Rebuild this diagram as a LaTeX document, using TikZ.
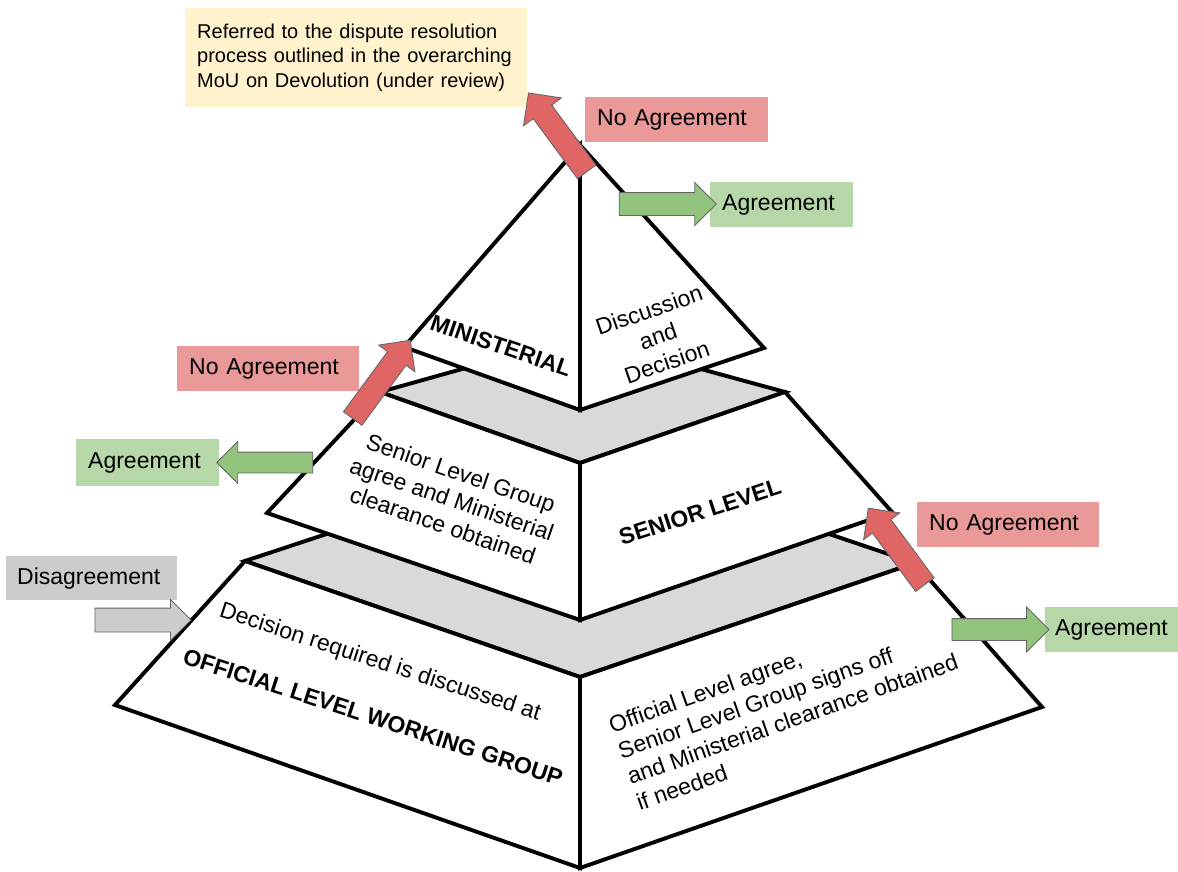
\documentclass[tikz,border=0pt]{standalone}
\usepackage{fontspec}
\setmainfont{Liberation Sans}
\usetikzlibrary{shapes.arrows}
\definecolor{pinkbox}{HTML}{EA9999}
\definecolor{redarrow}{HTML}{E06666}
\definecolor{greenbox}{HTML}{B6D7A8}
\definecolor{greenarrow}{HTML}{93C47D}
\definecolor{graybox}{HTML}{CCCCCC}
\definecolor{grayface}{HTML}{D9D9D9}
\definecolor{yellowbox}{HTML}{FFF2CC}
\definecolor{arrowline}{HTML}{666666}
\begin{document}
\begin{tikzpicture}[x=1pt,y=-1pt,
  face/.style={draw=black, line width=3.9pt, line join=miter, fill=white},
  topface/.style={face, fill=grayface},
  lbl/.style={rectangle, anchor=north west, inner xsep=12pt, inner ysep=0pt, minimum height=45pt, align=left, font=\fontsize{23}{27.5}\selectfont},
  blockarrow/.style={single arrow, draw=arrowline, line width=0.9pt, inner xsep=0pt, single arrow tip angle=90, anchor=center},
  ptext/.style={font=\fontsize{23}{27.5}\selectfont, align=center, inner sep=0pt},
  pbold/.style={ptext, font=\bfseries\fontsize{23}{27.5}\selectfont}
]
\useasboundingbox[fill=white] (0,0) rectangle (1178,872);

% bottom tier
\draw[topface] (245,561) -- (580,450) -- (915,563) -- (580,677) -- cycle;
\draw[face] (245,561) -- (580,677) -- (580,868) -- (115,705) -- cycle;
\draw[face] (580,677) -- (915,563) -- (1042,707) -- (580,868) -- cycle;
% middle tier
\draw[topface] (380,392) -- (580,336) -- (785,392) -- (580,463) -- cycle;
\draw[face] (380,392) -- (580,463) -- (580,620) -- (267,513) -- cycle;
\draw[face] (580,463) -- (785,392) -- (892,512) -- (580,620) -- cycle;
% top tier
\draw[face] (580,145) -- (404,347) -- (580,410) -- cycle;
\draw[face] (580,145) -- (580,410) -- (764,348) -- cycle;

% texts on the pyramid
\node[pbold, rotate=-19] (min) at (501,346) {MINISTERIAL};
\node[ptext, rotate=19] (disc) at (658,336) {Discussion\\and\\Decision};
\node[ptext, rotate=-19] (slg) at (452,499) {Senior Level Group\\agree and Ministerial\\clearance obtained};
\node[pbold, rotate=18] (sen) at (700,512) {SENIOR LEVEL};
\node[ptext, rotate=-18] (dec) at (380,663) {Decision required is discussed at};
\node[pbold, rotate=-18] (off) at (373,717) {OFFICIAL LEVEL WORKING GROUP};
\node[ptext, align=left, rotate=19.5] (offagree) at (788,706) {Official Level agree,\\Senior Level Group signs off\\and Ministerial clearance obtained\\if needed};

% labels
\node[lbl, fill=yellowbox, minimum height=99pt, text width=318pt, font=\fontsize{20}{24.5}\selectfont] (refer) at (185,8) {Referred to the dispute resolution\\process outlined in the overarching\\MoU on Devolution (under review)};
\node[lbl, fill=pinkbox, text width=159pt] (na1) at (585,97) {No Agreement};
\node[lbl, fill=greenbox, text width=119pt] (ag1) at (710,182) {Agreement};
\node[lbl, fill=pinkbox, text width=158pt] (na2) at (177,346) {No Agreement};
\node[lbl, fill=greenbox, text width=119pt, minimum height=47pt] (ag2) at (76,439) {Agreement};
\node[lbl, fill=pinkbox, text width=158pt] (na3) at (917,502) {No Agreement};
\node[lbl, fill=greenbox, inner xsep=10pt, text width=113pt] (ag3) at (1045,607) {Agreement};
\node[lbl, fill=graybox, inner xsep=11pt, text width=149pt, minimum height=44pt] (dis) at (6,556) {Disagreement};

% block arrows
\node[blockarrow, fill=redarrow, minimum height=98pt, inner ysep=11pt, single arrow head extend=12pt, rotate=126.4] (ra1) at (561,137) {};
\node[blockarrow, fill=redarrow, minimum height=97pt, inner ysep=11pt, single arrow head extend=11pt, rotate=53.7] (ra2) at (378,384) {};
\node[blockarrow, fill=redarrow, minimum height=95pt, inner ysep=11pt, single arrow head extend=11pt, rotate=126.5] (ra3) at (900,551) {};
\node[blockarrow, fill=greenarrow, minimum height=97pt, inner ysep=11pt, single arrow head extend=10pt] (ga1) at (662,204) {};
\node[blockarrow, fill=greenarrow, minimum height=96pt, inner ysep=10pt, single arrow head extend=10.5pt, rotate=180] (ga2) at (270,462.5) {};
\node[blockarrow, fill=greenarrow, minimum height=97pt, inner ysep=10.5pt, single arrow head extend=11.5pt] (ga3) at (995,629.5) {};
\node[blockarrow, fill=graybox, minimum height=96pt, inner ysep=11.5pt, single arrow head extend=8.5pt] (gra) at (137,620) {};
\end{tikzpicture}
\end{document}
